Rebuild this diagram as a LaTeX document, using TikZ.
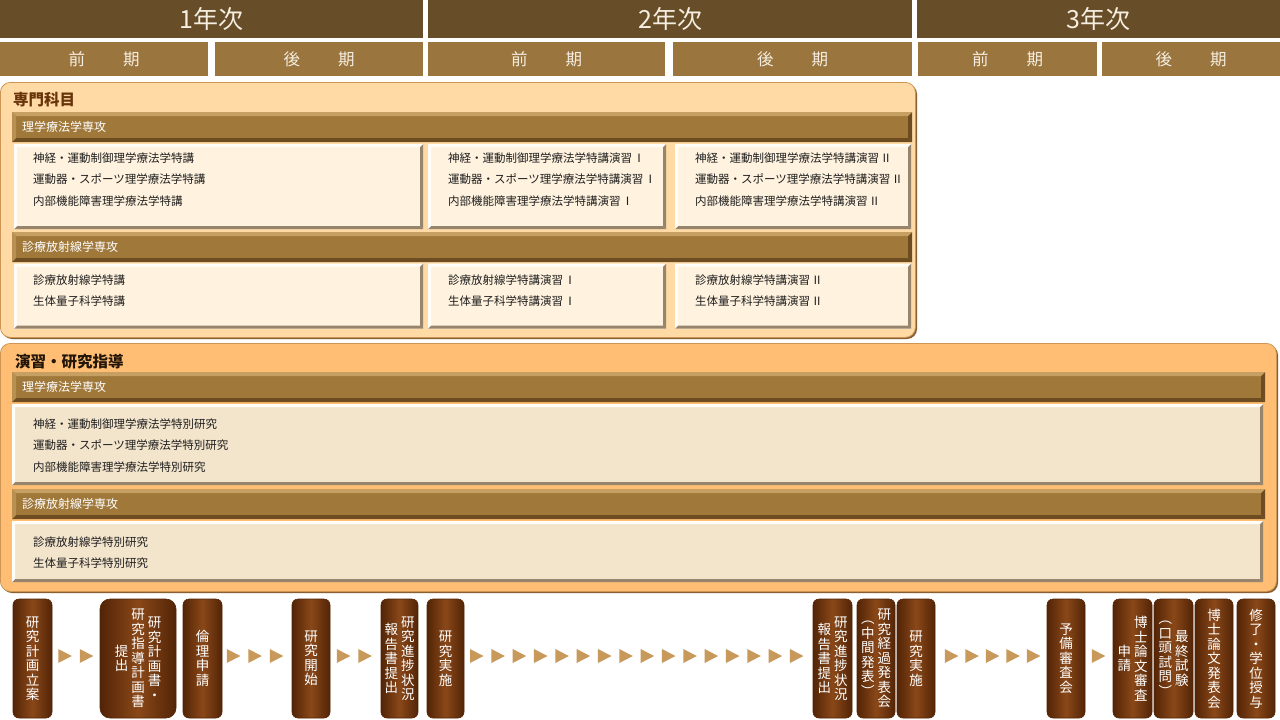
\documentclass[tikz,border=0pt]{standalone}
\usepackage{fontspec}
\setmainfont{Noto Sans CJK JP}
\usetikzlibrary{shadows}
\makeatletter
\def\vcol#1{$\vcenter{\baselineskip=14.5pt\lineskiplimit=-50pt\lineskip=0pt\halign{\hfil##\hfil\cr\vcol@#1\@nil}}$}
\def\vcol@#1#2\@nil{#1\cr\ifx\relax#2\relax\expandafter\@gobble\else\expandafter\@firstofone\fi{\vcol@#2\@nil}}
\makeatother
\newcommand\vgap{\hspace{3pt}}
\newcommand\rgap{\hspace{0.1em}}
\newcommand\bevelpp[5]{%
 \fill[#1] (path picture bounding box.north west) -- (path picture bounding box.north east) -- ([shift={(-#5,-#5)}]path picture bounding box.north east) -- ([shift={(#5,-#5)}]path picture bounding box.north west) -- cycle;
 \fill[#2] (path picture bounding box.north west) -- (path picture bounding box.south west) -- ([shift={(#5,#5)}]path picture bounding box.south west) -- ([shift={(#5,-#5)}]path picture bounding box.north west) -- cycle;
 \fill[#3] (path picture bounding box.south west) -- (path picture bounding box.south east) -- ([shift={(-#5,#5)}]path picture bounding box.south east) -- ([shift={(#5,#5)}]path picture bounding box.south west) -- cycle;
 \fill[#4] (path picture bounding box.north east) -- (path picture bounding box.south east) -- ([shift={(-#5,#5)}]path picture bounding box.south east) -- ([shift={(-#5,-#5)}]path picture bounding box.north east) -- cycle;}
\definecolor{yearbg}{RGB}{104,78,40}
\definecolor{sembg}{RGB}{155,117,62}
\definecolor{yeartxt}{RGB}{245,238,225}
\definecolor{panelA}{RGB}{255,218,165}
\definecolor{panelB}{RGB}{255,190,115}
\definecolor{panelEdge}{RGB}{205,150,85}
\definecolor{panelShadow}{RGB}{135,95,50}
\definecolor{barmid}{RGB}{160,120,58}
\definecolor{barlight}{RGB}{198,160,98}
\definecolor{bardark}{RGB}{108,76,32}
\definecolor{creamA}{RGB}{255,242,222}
\definecolor{creamB}{RGB}{243,228,204}
\definecolor{bevlight}{RGB}{255,253,248}
\definecolor{bevdark}{RGB}{150,132,108}
\definecolor{boxdark}{RGB}{82,36,6}
\definecolor{boxmid}{RGB}{138,72,24}
\definecolor{arrowtan}{RGB}{200,153,90}
\definecolor{titleA}{RGB}{105,52,10}
\definecolor{titleB}{RGB}{35,22,8}
\begin{document}
\begin{tikzpicture}[x=1pt,y=-1pt,
  yearhdr/.style={fill=yearbg, text=yeartxt, inner sep=0, anchor=north west, minimum height=37.5, font=\fontsize{25}{25}\selectfont},
  semhdr/.style={fill=sembg, text=yeartxt, inner sep=0, anchor=north west, minimum height=34, font=\fontsize{16.5}{16.5}\selectfont},
  panelbox/.style={rounded corners=10pt, draw=panelEdge, line width=0.8pt, inner sep=0, anchor=north west, drop shadow={shadow xshift=1.6pt, shadow yshift=-1.6pt, fill=panelShadow, opacity=1}},
  titletxt/.style={anchor=west, inner sep=0, font=\fontsize{15.5}{15.5}\selectfont\bfseries},
  sectbar/.style={fill=barmid, inner sep=0, anchor=north west, minimum height=30, path picture={\bevelpp{barlight}{barlight!60!barmid}{bardark}{bardark}{4pt}}},
  bartxt/.style={anchor=west, inner sep=0, text=white, font=\fontsize{12}{12}\selectfont},
  cbox/.style={inner sep=0, anchor=north west, path picture={\bevelpp{bevlight}{bevlight}{bevdark}{bevdark}{3pt}}},
  listtxt/.style={anchor=west, align=left, inner sep=0, text=black!88, font=\fontsize{11.5}{21.5}\selectfont},
  stepbox/.style={rounded corners=6pt, left color=boxdark, right color=boxdark, middle color=boxmid, draw=boxdark, line width=0.6pt, text=white, inner sep=0, minimum height=119, font=\fontsize{13.5}{14.5}\selectfont},
  tri/.pic={\fill[arrowtan] (-6.75,-7) -- (6.75,0) -- (-6.75,7) -- cycle;}
]
\useasboundingbox (0,0) rectangle (1280,720);
\fill[white] (0,0) rectangle (1280,720);
% year headers
\node[yearhdr, minimum width=423] (y1) at (0,0) {1年次};
\node[yearhdr, minimum width=484] (y2) at (428,0) {2年次};
\node[yearhdr, minimum width=363] (y3) at (917,0) {3年次};
% semesters
\node[semhdr, minimum width=208] (s1) at (0,42) {前\hspace{2.3em}期};
\node[semhdr, minimum width=208] (s2) at (215,42) {後\hspace{2.3em}期};
\node[semhdr, minimum width=237] (s3) at (428,42) {前\hspace{2.3em}期};
\node[semhdr, minimum width=239] (s4) at (673,42) {後\hspace{2.3em}期};
\node[semhdr, minimum width=179] (s5) at (918,42) {前\hspace{2.3em}期};
\node[semhdr, minimum width=178] (s6) at (1102,42) {後\hspace{2.3em}期};
% panel A
\node[panelbox, fill=panelA, minimum width=915, minimum height=255] (pA) at (0,82) {};
\node[titletxt, text=titleA] (tA) at (13,100) {専門科目};
\node[sectbar, minimum width=900] (hA1) at (12,112) {};
\node[bartxt] (hA1t) at (22,127) {理学療法学専攻};
\node[cbox, fill=creamA, minimum width=409, minimum height=85] (cA1) at (14,144) {};
\node[cbox, fill=creamA, minimum width=238, minimum height=85] (cA2) at (428,144) {};
\node[cbox, fill=creamA, minimum width=236, minimum height=85] (cA3) at (675,144) {};
\node[listtxt] (lA1) at (33,179.5) {神経・運動制御理学療法学特講\\運動器・スポーツ理学療法学特講\\内部機能障害理学療法学特講};
\node[listtxt] (lA2) at (448,179.5) {神経・運動制御理学療法学特講演習\rgap Ⅰ\\運動器・スポーツ理学療法学特講演習\rgap Ⅰ\\内部機能障害理学療法学特講演習\rgap Ⅰ};
\node[listtxt] (lA3) at (695,179.5) {神経・運動制御理学療法学特講演習\rgap Ⅱ\\運動器・スポーツ理学療法学特講演習\rgap Ⅱ\\内部機能障害理学療法学特講演習\rgap Ⅱ};
\node[sectbar, minimum width=900] (hA2) at (12,232) {};
\node[bartxt] (hA2t) at (22,247) {診療放射線学専攻};
\node[cbox, fill=creamA, minimum width=409, minimum height=65] (cA4) at (14,263.5) {};
\node[cbox, fill=creamA, minimum width=238, minimum height=65] (cA5) at (428,263.5) {};
\node[cbox, fill=creamA, minimum width=236, minimum height=65] (cA6) at (675,263.5) {};
\node[listtxt] (lA4) at (33,290.5) {診療放射線学特講\\生体量子科学特講};
\node[listtxt] (lA5) at (448,290.5) {診療放射線学特講演習\rgap Ⅰ\\生体量子科学特講演習\rgap Ⅰ};
\node[listtxt] (lA6) at (695,290.5) {診療放射線学特講演習\rgap Ⅱ\\生体量子科学特講演習\rgap Ⅱ};
% panel B
\node[panelbox, fill=panelB, minimum width=1276, minimum height=248] (pB) at (0,343) {};
\node[titletxt, text=titleB] (tB) at (15,362) {演習・研究指導};
\node[sectbar, minimum width=1253] (hB1) at (12,372) {};
\node[bartxt] (hB1t) at (22,386.5) {理学療法学専攻};
\node[cbox, fill=creamB, minimum width=1251, minimum height=81] (cB1) at (12,404) {};
\node[listtxt] (lB1) at (33,445.5) {神経・運動制御理学療法学特別研究\\運動器・スポーツ理学療法学特別研究\\内部機能障害理学療法学特別研究};
\node[sectbar, minimum width=1253] (hB2) at (12,489) {};
\node[bartxt] (hB2t) at (22,503.5) {診療放射線学専攻};
\node[cbox, fill=creamB, minimum width=1251, minimum height=61] (cB2) at (12,521) {};
\node[listtxt] (lB2) at (33,552.5) {診療放射線学特別研究\\生体量子科学特別研究};
% process steps
\node[stepbox, minimum width=39] (b1) at (32.5,658.5) {\vcol{研究計画立案}};
\node[stepbox, minimum width=76, rounded corners=10pt] (b2) at (138,658.5) {\vcol{提出}\vgap\vcol{研究指導計画書}\vgap\vcol{研究計画書・}};
\node[stepbox, minimum width=39] (b3) at (202.5,658.5) {\vcol{倫理申請}};
\node[stepbox, minimum width=38] (b4) at (311,658.5) {\vcol{研究開始}};
\node[stepbox, minimum width=37] (b5) at (399.5,658.5) {\vcol{報告書提出}\vgap\vcol{研究進捗状況}};
\node[stepbox, minimum width=37] (b6) at (445.5,658.5) {\vcol{研究実施}};
\node[stepbox, minimum width=39] (b7) at (832.5,658.5) {\vcol{報告書提出}\vgap\vcol{研究進捗状況}};
\node[stepbox, minimum width=38] (b8) at (876,658.5) {\vcol{︵中間発表︶}\vgap\vcol{研究経過発表会}};
\node[stepbox, minimum width=38] (b9) at (916,658.5) {\vcol{研究実施}};
\node[stepbox, minimum width=38] (b10) at (1066,658.5) {\vcol{予備審査会}};
\node[stepbox, minimum width=39] (b11) at (1132.5,658.5) {\vcol{申請}\vgap\vcol{博士論文審査}};
\node[stepbox, minimum width=39] (b12) at (1173.5,658.5) {\vcol{︵口頭試問︶}\vgap\vcol{最終試験}};
\node[stepbox, minimum width=38] (b13) at (1214,658.5) {\vcol{博士論文発表会}};
\node[stepbox, minimum width=38] (b14) at (1256,658.5) {\vcol{修了・学位授与}};
% arrow marks
\foreach \cx in {65,86.5} \pic at (\cx,656) {tri};
\foreach \cx in {233.5,255,276.5} \pic at (\cx,656) {tri};
\foreach \cx in {343.5,365} \pic at (\cx,656) {tri};
\foreach \k in {0,...,15} \pic at (476.75+21.33*\k,656) {tri};
\foreach \k in {0,...,4} \pic at (951.5+20.5*\k,656) {tri};
\pic at (1098.5,656) {tri};
\end{tikzpicture}
\end{document}
